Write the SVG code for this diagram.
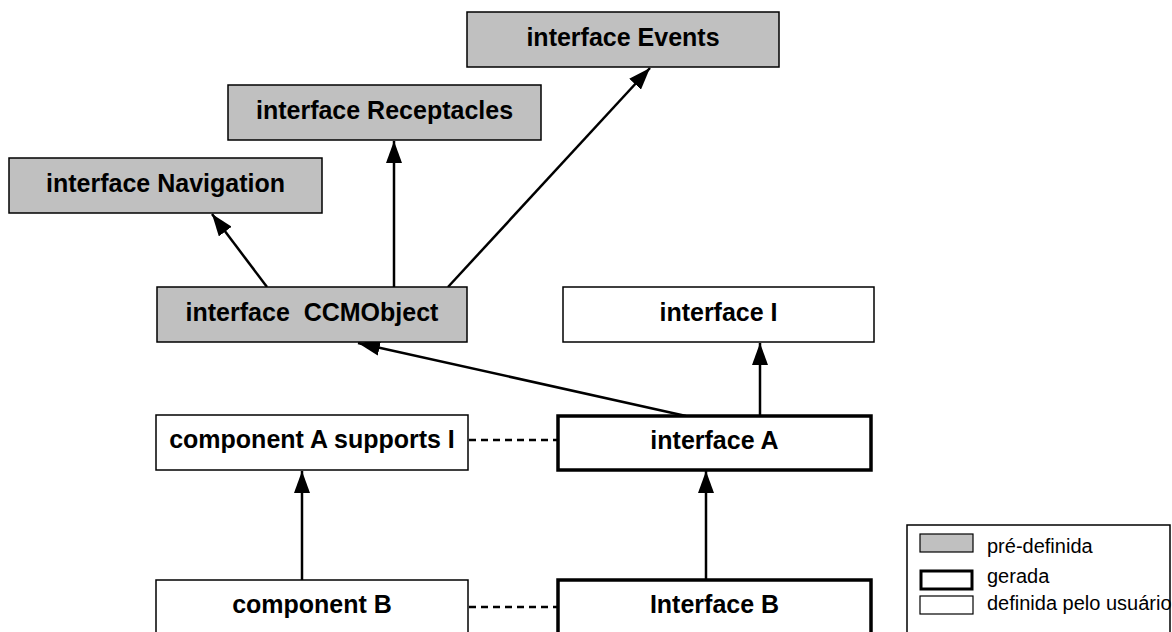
<svg xmlns="http://www.w3.org/2000/svg" width="1172" height="632" viewBox="0 0 1172 632">
  <style>
    .box rect { stroke: #000; stroke-width: 1.5; fill: #fff; }
    .pre rect { fill: #c0c0c0; }
    .gen rect { stroke-width: 3.5; }
    .lbl { font-family: "Liberation Sans", Arial, sans-serif; font-weight: bold; font-size: 25px; text-anchor: middle; fill: #000; white-space: pre; }
    .edge { stroke: #000; stroke-width: 2.5; fill: none; }
    .dash { stroke: #000; stroke-width: 2.5; stroke-dasharray: 7 5; fill: none; }
    .leg { font-family: "Liberation Sans", Arial, sans-serif; font-size: 20px; fill: #000; }
  </style>
  <defs>
    <marker id="arrow" viewBox="0 0 22 16" refX="22" refY="8" markerWidth="22" markerHeight="16" markerUnits="userSpaceOnUse" orient="auto">
      <path d="M0,0 L22,8 L0,16 Z" fill="#000"/>
    </marker>
  </defs>
  <rect width="1172" height="632" fill="#fff"/>

  <!-- connectors -->
  <g id="connectors">
    <line class="edge" x1="267" y1="287" x2="212" y2="214" marker-end="url(#arrow)"/>
    <line class="edge" x1="394" y1="287" x2="394" y2="141" marker-end="url(#arrow)"/>
    <line class="edge" x1="448" y1="287" x2="650" y2="68" marker-end="url(#arrow)"/>
    <line class="edge" x1="686" y1="416" x2="358" y2="343" marker-end="url(#arrow)"/>
    <line class="edge" x1="760" y1="416" x2="760" y2="343" marker-end="url(#arrow)"/>
    <line class="edge" x1="302" y1="580" x2="302" y2="471" marker-end="url(#arrow)"/>
    <line class="edge" x1="706" y1="580" x2="706" y2="471" marker-end="url(#arrow)"/>
    <line class="dash" x1="469" y1="440" x2="558" y2="440"/>
    <line class="dash" x1="469" y1="607" x2="558" y2="607"/>
  </g>

  <!-- nodes -->
  <g id="events" class="box pre">
    <rect x="467" y="12" width="312" height="55"/>
    <text class="lbl" x="623" y="46">interface Events</text>
  </g>
  <g id="receptacles" class="box pre">
    <rect x="228" y="85" width="313" height="55"/>
    <text class="lbl" x="384.5" y="119">interface Receptacles</text>
  </g>
  <g id="navigation" class="box pre">
    <rect x="9" y="158" width="313" height="55"/>
    <text class="lbl" x="165.5" y="192">interface Navigation</text>
  </g>
  <g id="ccmobject" class="box pre">
    <rect x="157" y="287" width="310" height="55"/>
    <text class="lbl" x="312" y="321">interface  CCMObject</text>
  </g>
  <g id="interface-i" class="box">
    <rect x="563" y="287" width="311" height="55"/>
    <text class="lbl" x="718.5" y="321">interface I</text>
  </g>
  <g id="component-a" class="box">
    <rect x="156" y="415" width="312" height="55"/>
    <text class="lbl" x="312" y="448">component A supports I</text>
  </g>
  <g id="interface-a" class="box gen">
    <rect x="558" y="416" width="313" height="54"/>
    <text class="lbl" x="714.5" y="449">interface A</text>
  </g>
  <g id="component-b" class="box">
    <rect x="156" y="580" width="312" height="70"/>
    <text class="lbl" x="312" y="613">component B</text>
  </g>
  <g id="interface-b" class="box gen">
    <rect x="558" y="580" width="313" height="70"/>
    <text class="lbl" x="714.5" y="613">Interface B</text>
  </g>

  <!-- legend -->
  <g id="legend">
    <rect x="907" y="525" width="263" height="120" fill="#fff" stroke="#000" stroke-width="1.5"/>
    <rect x="920" y="534" width="53" height="18" fill="#c0c0c0" stroke="#000" stroke-width="1.2"/>
    <text class="leg" x="987" y="553">pré-definida</text>
    <rect x="921" y="571" width="51" height="18" fill="#fff" stroke="#000" stroke-width="3"/>
    <text class="leg" x="987" y="583">gerada</text>
    <rect x="920" y="596" width="53" height="18" fill="#fff" stroke="#000" stroke-width="1.2"/>
    <text class="leg" x="987" y="610">definida pelo usuário</text>
  </g>
</svg>
